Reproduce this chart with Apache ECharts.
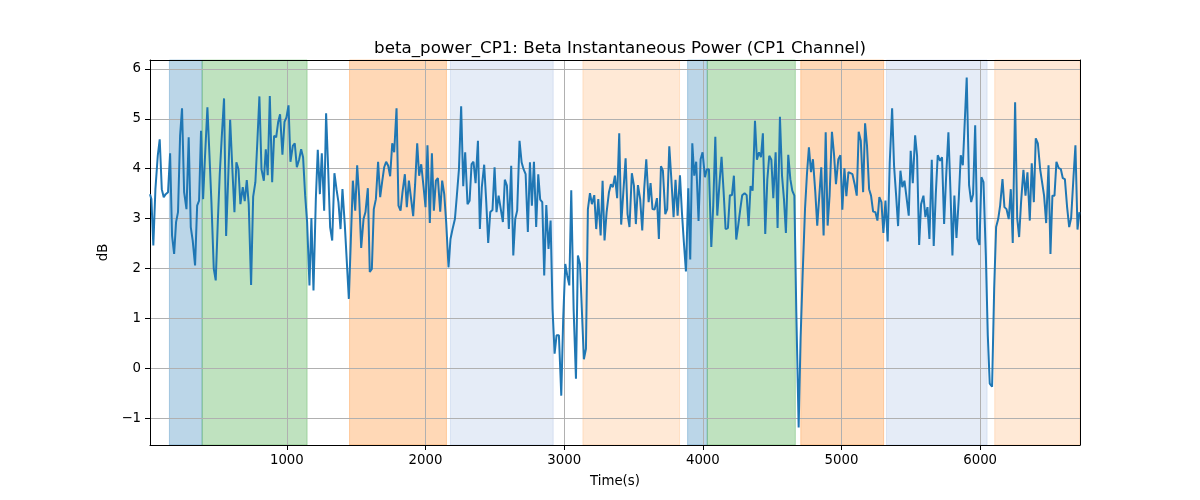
<!DOCTYPE html>
<html>
<head>
<meta charset="utf-8">
<title>beta_power_CP1</title>
<script src="https://cdn.jsdelivr.net/npm/echarts@6/dist/echarts.min.js"></script>
<style>
  html, body { margin: 0; padding: 0; background: #fff; }
  #beta-chart { width: 1200px; height: 500px; }
</style>
</head>
<body>
<div id="beta-chart"></div>
<script>
// [time (s), power (dB)]
var betaPower = [
    [13,3.49],[23,3.39],[37,2.46],[52,3.59],[69,4.26],[83,4.59],[98,3.59],[112,3.43],[126,3.49],[143,3.53],
    [158,4.31],[172,2.66],[187,2.29],[201,2.93],[215,3.13],[230,4.66],[244,5.21],[259,3.53],[276,3.19],[292,4.63],
    [307,2.83],[321,2.56],[338,2.06],[353,3.26],[367,3.36],[381,4.76],[396,3.39],[410,4.26],[427,5.23],[442,4.26],
    [456,3.33],[473,1.99],[487,1.76],[502,2.93],[516,3.89],[531,4.66],[547,5.41],[562,2.65],[576,3.73],[591,4.98],
    [607,3.99],[622,3.13],[636,4.13],[651,3.99],[665,3.29],[682,3.63],[696,3.35],[711,3.77],[725,3.29],[742,1.67],
    [757,3.44],[773,3.73],[788,4.59],[802,5.45],[817,3.99],[834,3.76],[848,4.39],[862,3.87],[877,5.46],[894,3.73],
    [908,4.66],[923,4.63],[937,4.93],[951,5.09],[968,4.28],[983,4.94],[997,5.03],[1012,5.27],[1026,4.14],[1043,4.46],
    [1057,4.51],[1072,4.03],[1089,4.19],[1103,4.39],[1117,4.23],[1132,3.46],[1146,2.93],[1163,1.66],[1177,3.01],[1192,1.56],
    [1209,3.39],[1223,4.38],[1238,3.49],[1252,4.31],[1269,3.16],[1283,5.11],[1298,3.99],[1312,2.83],[1327,2.56],[1343,3.91],
    [1358,3.59],[1372,3.33],[1387,2.79],[1401,3.59],[1418,2.87],[1432,2.89],[1447,1.39],[1461,2.53],[1476,3.76],[1493,3.16],
    [1507,4.07],[1521,3.46],[1536,2.41],[1553,2.99],[1567,3.13],[1584,3.61],[1598,1.93],[1613,1.99],[1627,3.19],[1642,3.39],
    [1658,4.14],[1673,3.43],[1687,3.73],[1702,4.03],[1716,4.14],[1731,4.06],[1745,3.85],[1760,4.51],[1774,4.33],[1791,5.21],
    [1805,3.26],[1820,3.16],[1834,3.53],[1851,3.89],[1865,3.23],[1880,3.76],[1894,3.74],[1911,3.05],[1925,3.69],[1940,4.51],
    [1954,3.86],[1969,4.09],[1986,3.63],[2000,3.23],[2014,4.47],[2031,2.91],[2046,4.31],[2060,3.16],[2075,3.76],[2089,3.81],
    [2106,3.14],[2120,3.76],[2135,3.49],[2149,2.93],[2166,2.02],[2180,2.59],[2195,2.79],[2212,2.99],[2226,3.46],[2241,3.99],
    [2257,5.25],[2272,3.65],[2286,4.33],[2303,3.29],[2318,3.36],[2332,4.09],[2346,4.14],[2361,3.71],[2378,4.56],[2392,2.79],
    [2406,3.63],[2423,4.08],[2438,3.33],[2452,2.51],[2467,3.13],[2483,3.17],[2498,4.03],[2512,3.13],[2527,3.46],[2541,3.47],
    [2558,2.93],[2572,3.78],[2587,3.66],[2601,2.79],[2618,4.06],[2633,2.26],[2647,2.99],[2661,3.16],[2678,4.56],[2693,4.13],
    [2707,3.99],[2722,3.89],[2738,2.73],[2753,4.13],[2767,3.26],[2782,4.14],[2798,2.83],[2813,3.89],[2827,3.38],[2842,3.33],
    [2856,1.86],[2871,3.27],[2887,2.39],[2902,2.96],[2916,1.19],[2931,0.29],[2945,0.66],[2962,0.66],[2979,-0.55],[2993,0.99],
    [3008,2.09],[3022,1.86],[3037,1.66],[3051,3.57],[3068,1.19],[3085,-0.21],[3099,2.26],[3114,2.09],[3128,2.05],[3142,0.18],
    [3157,0.39],[3171,3.19],[3186,3.51],[3200,3.29],[3217,3.47],[3231,2.79],[3246,3.39],[3263,2.66],[3277,3.76],[3291,2.56],
    [3306,3.13],[3323,3.53],[3337,3.69],[3351,3.63],[3366,3.86],[3382,3.41],[3397,4.71],[3411,2.88],[3428,3.59],[3443,4.21],
    [3457,3.09],[3471,2.83],[3488,3.91],[3503,3.66],[3517,2.89],[3532,3.67],[3548,3.39],[3563,2.76],[3577,3.59],[3592,4.19],
    [3609,3.33],[3623,3.71],[3637,3.19],[3652,3.18],[3669,3.41],[3683,2.59],[3698,4.05],[3712,3.96],[3729,3.09],[3743,3.19],
    [3758,4.45],[3772,3.83],[3789,3.03],[3803,3.78],[3818,3.06],[3835,3.87],[3849,3.13],[3863,2.53],[3878,1.94],[3895,3.61],
    [3909,2.18],[3924,4.51],[3938,3.86],[3952,4.14],[3969,2.95],[3984,4.19],[3998,4.33],[4015,3.83],[4029,3.99],[4044,3.99],
    [4061,2.43],[4075,3.26],[4090,4.64],[4104,3.06],[4121,3.74],[4135,4.24],[4150,3.53],[4164,2.79],[4181,2.81],[4195,3.47],
    [4210,3.47],[4224,3.86],[4241,2.58],[4255,2.86],[4270,3.19],[4284,3.47],[4301,3.51],[4316,3.47],[4330,2.85],[4344,3.65],
    [4359,3.56],[4376,4.96],[4390,4.18],[4405,4.33],[4419,4.23],[4433,4.71],[4450,2.69],[4465,3.78],[4479,4.26],[4494,4.18],
    [4508,3.41],[4525,4.33],[4539,2.81],[4556,5.04],[4571,3.86],[4585,3.39],[4599,2.71],[4616,4.28],[4631,3.79],[4645,3.56],
    [4660,3.46],[4674,1.13],[4691,-1.19],[4705,0.6],[4720,1.9],[4737,3.2],[4751,3.9],[4765,4.43],[4780,3.93],[4794,4.19],
    [4811,3.53],[4825,2.86],[4840,3.46],[4854,4.03],[4871,2.66],[4886,4.73],[4900,2.86],[4914,3.46],[4931,4.74],[4946,4.29],
    [4960,3.69],[4977,4.19],[4992,4.27],[5006,3.18],[5021,4.01],[5035,3.45],[5050,3.93],[5064,3.89],[5079,3.89],[5095,3.69],
    [5110,3.46],[5124,4.74],[5139,4.56],[5156,3.53],[5170,4.91],[5184,4.46],[5199,3.59],[5213,3.46],[5228,3.14],[5244,3.13],
    [5259,2.96],[5273,3.43],[5288,3.33],[5302,2.71],[5317,3.36],[5333,2.54],[5348,4.13],[5365,5.21],[5379,4.06],[5394,3.46],
    [5408,2.85],[5425,3.96],[5439,3.63],[5454,3.76],[5468,3.78],[5485,3.06],[5499,4.36],[5514,3.71],[5531,4.67],[5545,4.26],
    [5560,2.47],[5574,3.29],[5591,3.46],[5605,3.03],[5620,3.23],[5634,2.59],[5651,4.18],[5665,2.45],[5680,3.49],[5694,4.27],
    [5711,4.16],[5725,4.23],[5740,2.89],[5754,3.81],[5771,4.73],[5786,3.53],[5800,2.26],[5814,3.46],[5829,2.61],[5846,3.41],
    [5860,4.27],[5875,4.07],[5889,4.09],[5903,5.83],[5920,3.67],[5935,3.33],[5949,3.49],[5964,4.87],[5980,2.59],[5995,2.47],
    [6009,3.83],[6024,3.73],[6041,2.26],[6055,0.66],[6069,-0.31],[6086,-0.37],[6101,1.59],[6115,2.83],[6130,2.99],[6144,3.26],
    [6161,3.79],[6175,3.23],[6190,3.19],[6206,2.99],[6221,3.59],[6235,2.51],[6252,5.33],[6267,3.01],[6281,2.63],[6295,3.33],
    [6312,3.98],[6327,3.46],[6341,3.93],[6358,2.96],[6372,4.11],[6387,3.33],[6401,4.61],[6416,4.51],[6433,3.98],[6447,3.94],
    [6461,3.46],[6476,2.91],[6493,4.07],[6507,2.29],[6521,3.46],[6536,3.46],[6550,4.14],[6567,4.01],[6582,3.99],[6596,3.81],
    [6611,3.79],[6627,3.23],[6642,2.83],[6656,3.01],[6673,3.83],[6687,4.47],[6702,2.78],[6716,3.13]
];

// shaded stages
var spanStart = [153, 389, 1452, 2180, 3135, 3890, 4032, 4706, 5324, 6105];
var spanEnd   = [389, 1146, 2151, 2921, 3832, 4032, 4667, 5304, 6050, 6720];
var spanKind  = ['blue', 'green', 'orange', 'lightblue', 'lightorange', 'blue', 'green', 'orange', 'lightblue', 'lightorange'];

var xTicks = [1000, 2000, 3000, 4000, 5000, 6000];
var yTicks = [-1, 0, 1, 2, 3, 4, 5, 6];

var kindColor = {
    blue: 'rgba(31,119,180,0.3)',
    green: 'rgba(44,160,44,0.3)',
    orange: 'rgba(255,127,14,0.3)',
    lightblue: 'rgba(70,120,200,0.14)',
    lightorange: 'rgba(255,127,14,0.17)'
};

var font = 'DejaVu Sans, sans-serif';

var areas = spanStart.map(function(s, i) {
    var c = kindColor[spanKind[i]];
    return [
        { xAxis: s, itemStyle: { color: c, borderColor: c, borderWidth: 1 } },
        { xAxis: spanEnd[i] }
    ];
});

var chart = echarts.init(document.getElementById('beta-chart'));

chart.setOption({
    animation: false,
    backgroundColor: '#fff',
    title: {
        text: 'beta_power_CP1: Beta Instantaneous Power (CP1 Channel)',
        left: 615,
        top: 35,
        textAlign: 'center',
        textStyle: { fontFamily: font, fontSize: 16.7, fontWeight: 'normal', color: '#000' }
    },
    grid: { left: 150, right: 120, top: 60, bottom: 55 },
    xAxis: [{
        type: 'value',
        min: 13,
        max: 6720,
        name: 'Time(s)',
        nameLocation: 'middle',
        nameGap: 30,
        nameTextStyle: { fontFamily: font, fontSize: 13.3, color: '#000' },
        axisLine: { onZero: false, lineStyle: { color: '#000', width: 1 } },
        axisTick: { customValues: xTicks, length: 5, lineStyle: { color: '#000' } },
        axisLabel: {
            customValues: xTicks,
            margin: 9,
            fontFamily: font,
            fontSize: 13.3,
            color: '#000',
            formatter: function(v) { return String(v); }
        },
        splitLine: { show: true, lineStyle: { color: '#b0b0b0', width: 1 } },
        z: 3
    }, {
        type: 'value',
        position: 'top',
        min: 13,
        max: 6720,
        axisLine: { show: true, onZero: false, lineStyle: { color: '#000', width: 1 } },
        axisTick: { show: false },
        axisLabel: { show: false },
        splitLine: { show: false },
        z: 3
    }],
    yAxis: [{
        type: 'value',
        min: -1.54,
        max: 6.18,
        name: 'dB',
        nameLocation: 'middle',
        nameGap: 38,
        nameTextStyle: { fontFamily: font, fontSize: 13.3, color: '#000' },
        axisLine: { show: true, onZero: false, lineStyle: { color: '#000', width: 1 } },
        axisTick: { show: true, customValues: yTicks, length: 5, lineStyle: { color: '#000' } },
        axisLabel: {
            customValues: yTicks,
            margin: 9,
            fontFamily: font,
            fontSize: 13.3,
            color: '#000',
            formatter: function(v) { return String(v).replace('-', '\u2212'); }
        },
        splitLine: { show: true, lineStyle: { color: '#b0b0b0', width: 1 } },
        z: 3
    }, {
        type: 'value',
        position: 'right',
        min: -1.54,
        max: 6.18,
        axisLine: { show: true, onZero: false, lineStyle: { color: '#000', width: 1 } },
        axisTick: { show: false },
        axisLabel: { show: false },
        splitLine: { show: false },
        z: 3
    }],
    series: [{
        name: 'beta_power_CP1',
        type: 'line',
        data: betaPower,
        showSymbol: false,
        symbol: 'none',
        z: 5,
        lineStyle: { color: '#1f77b4', width: 2 },
        markArea: { silent: true, z: 1, data: areas }
    }]
});
</script>
</body>
</html>
